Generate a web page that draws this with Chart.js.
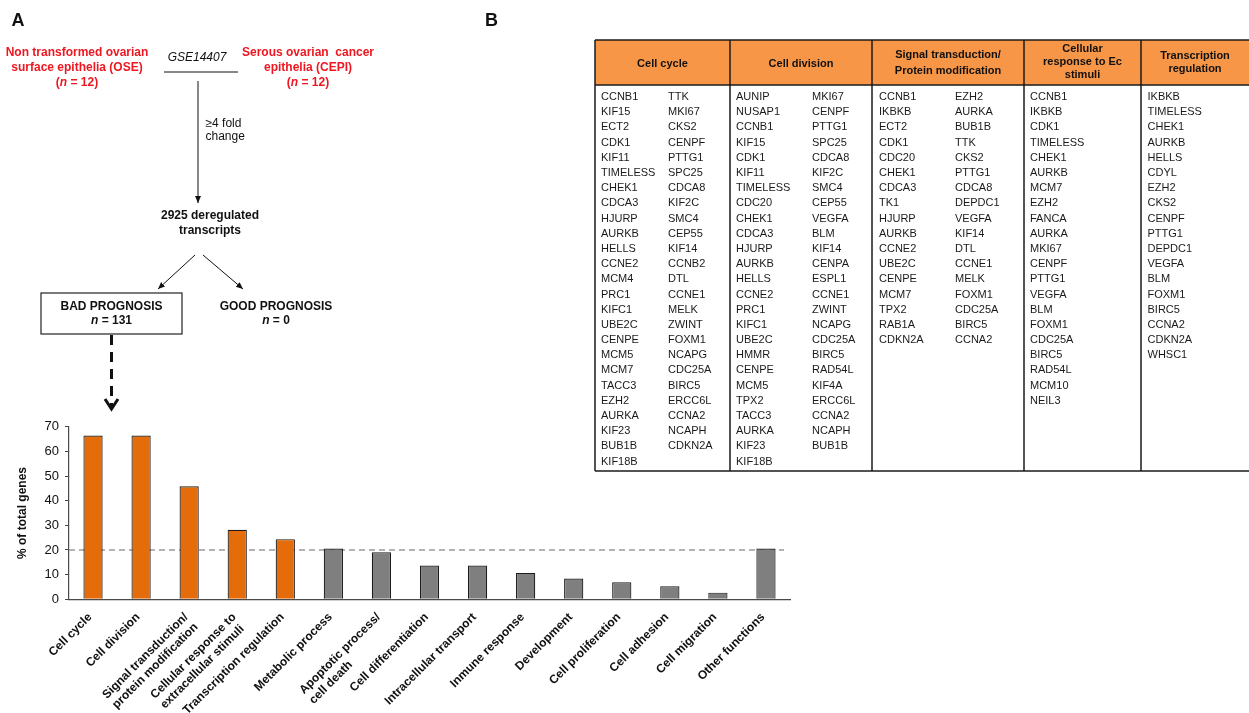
<!DOCTYPE html>
<html>
<head>
<meta charset="utf-8">
<script src="https://cdn.jsdelivr.net/npm/chart.js@4.4.0/dist/chart.umd.min.js"></script>
<style>
  html, body { margin: 0; padding: 0; background: #fff; }
  body { width: 1249px; height: 713px; position: relative; overflow: hidden;
         font-family: "Liberation Sans", Arial, Helvetica, sans-serif; color: #111; }
  .t { position: absolute; white-space: nowrap; }
  .c { transform: translateX(-50%); text-align: center; }
  .b { font-weight: bold; }
  .red { color: #ee1620; }
  .panel { font-size: 18px; font-weight: bold; line-height: 20px; }
  .f12 { font-size: 12px; }
  .gene { font-size: 11px; line-height: 15.18px; color: #1a1a1a; }
  .hdr { position: absolute; font-size: 11px; font-weight: bold; color: #111; text-align: center;
         display: flex; align-items: center; justify-content: center; }
  #chartBox { position: absolute; left: 0; top: 410px; width: 800px; height: 303px; }
  svg { position: absolute; left: 0; top: 0; }
</style>
</head>
<body>

<div id="chartBox"><canvas id="genesChart" width="800" height="303"></canvas></div>

<svg width="1249" height="713">
  <defs>
    <marker id="head" markerWidth="8" markerHeight="8" refX="7" refY="3" orient="auto" markerUnits="userSpaceOnUse">
      <path d="M0,0 L7,3 L0,6 z" fill="#111"/>
    </marker>
  </defs>
  <!-- flow diagram -->
  <line x1="164" y1="72" x2="238" y2="72" stroke="#111" stroke-width="1"/>
  <line x1="198" y1="81" x2="198" y2="203" stroke="#111" stroke-width="1" marker-end="url(#head)"/>
  <line x1="195" y1="255" x2="158" y2="289" stroke="#111" stroke-width="1" marker-end="url(#head)"/>
  <line x1="203" y1="255" x2="243" y2="289" stroke="#111" stroke-width="1" marker-end="url(#head)"/>
  <rect x="41" y="293" width="141" height="41" fill="none" stroke="#222" stroke-width="1.2"/>
  <line x1="111.5" y1="335" x2="111.5" y2="407" stroke="#111" stroke-width="3" stroke-dasharray="10 7"/>
  <polyline points="105,399 111.5,409 118,399" fill="none" stroke="#111" stroke-width="3"/>
  <!-- gene table frame -->
  <rect x="595" y="40" width="660" height="45" fill="#f79646"/>
  <g stroke="#1a1a1a" stroke-width="1.5" fill="none">
    <line x1="595" y1="40" x2="1255" y2="40"/>
    <line x1="595" y1="85" x2="1255" y2="85"/>
    <line x1="595" y1="471" x2="1255" y2="471"/>
    <line x1="595" y1="40" x2="595" y2="471"/>
    <line x1="730" y1="40" x2="730" y2="471"/>
    <line x1="872" y1="40" x2="872" y2="471"/>
    <line x1="1024" y1="40" x2="1024" y2="471"/>
    <line x1="1141" y1="40" x2="1141" y2="471"/>
  </g>
</svg>

<!-- panel letters -->
<div class="t panel" style="left:11.5px; top:10px;">A</div>
<div class="t panel" style="left:485px; top:10px;">B</div>

<!-- flow diagram text -->
<div class="t c b f12 red" style="left:77px; top:44.7px; line-height:15.2px;">Non transformed ovarian<br>surface epithelia (OSE)<br>(<i>n</i> = 12)</div>
<div class="t c b f12 red" style="left:308px; top:44.7px; line-height:15.2px;">Serous ovarian&nbsp; cancer<br>epithelia (CEPI)<br>(<i>n</i> = 12)</div>
<div class="t c f12" style="left:197px; top:50px; line-height:15px; font-style:italic;">GSE14407</div>
<div class="t f12" style="left:205.5px; top:117px; line-height:12.5px;">&ge;4 fold<br>change</div>
<div class="t c b f12" style="left:210px; top:207.5px; line-height:15px;">2925 deregulated<br>transcripts</div>
<div class="t c b f12" style="left:111.5px; top:299px; line-height:14px;">BAD PROGNOSIS<br><i>n</i> = 131</div>
<div class="t c b f12" style="left:276px; top:299px; line-height:14px;">GOOD PROGNOSIS<br><i>n</i> = 0</div>

<!-- gene table headers -->
<div class="hdr" style="left:595px; top:40px; width:135px; height:45px;">Cell cycle</div>
<div class="hdr" style="left:730px; top:40px; width:142px; height:45px;">Cell division</div>
<div class="hdr" style="left:872px; top:40px; width:152px; height:45px; line-height:15.5px;">Signal transduction/<br>Protein modification</div>
<div class="hdr" style="left:1024px; top:39px; width:117px; height:45px; line-height:12.7px;">Cellular<br>response to Ec<br>stimuli</div>
<div class="hdr" style="left:1141px; top:39.5px; width:108px; height:45px; line-height:13.3px;">Transcription<br>regulation</div>

<div id="geneColumns"></div>

<script>
// Percentage of the 131 bad-prognosis genes in each functional category
const categories = [
  'Cell cycle',
  'Cell division',
  'Signal transduction/\nprotein modification',
  'Cellular response to\nextracellular stimuli',
  'Transcription regulation',
  'Metabolic process',
  'Apoptotic process/\ncell death',
  'Cell differentiation',
  'Intracellular transport',
  'Inmune response',
  'Development',
  'Cell proliferation',
  'Cell adhesion',
  'Cell migration',
  'Other functions'
];
const percentOfGenes = [66.4, 66.4, 45.8, 28.2, 24.4, 20.6, 19.1, 13.7, 13.7, 10.7, 8.4, 6.9, 5.3, 2.7, 20.6];
const yTicks = [0, 10, 20, 30, 40, 50, 60, 70];
const thresholdPercent = 20;
const enrichedCount = 5;

// Genes listed under each enriched category
const cellCycleGenesA = ['CCNB1','KIF15','ECT2','CDK1','KIF11','TIMELESS','CHEK1','CDCA3','HJURP','AURKB','HELLS','CCNE2','MCM4','PRC1','KIFC1','UBE2C','CENPE','MCM5','MCM7','TACC3','EZH2','AURKA','KIF23','BUB1B','KIF18B'];
const cellCycleGenesB = ['TTK','MKI67','CKS2','CENPF','PTTG1','SPC25','CDCA8','KIF2C','SMC4','CEP55','KIF14','CCNB2','DTL','CCNE1','MELK','ZWINT','FOXM1','NCAPG','CDC25A','BIRC5','ERCC6L','CCNA2','NCAPH','CDKN2A'];
const cellDivisionGenesA = ['AUNIP','NUSAP1','CCNB1','KIF15','CDK1','KIF11','TIMELESS','CDC20','CHEK1','CDCA3','HJURP','AURKB','HELLS','CCNE2','PRC1','KIFC1','UBE2C','HMMR','CENPE','MCM5','TPX2','TACC3','AURKA','KIF23','KIF18B'];
const cellDivisionGenesB = ['MKI67','CENPF','PTTG1','SPC25','CDCA8','KIF2C','SMC4','CEP55','VEGFA','BLM','KIF14','CENPA','ESPL1','CCNE1','ZWINT','NCAPG','CDC25A','BIRC5','RAD54L','KIF4A','ERCC6L','CCNA2','NCAPH','BUB1B'];
const signalGenesA = ['CCNB1','IKBKB','ECT2','CDK1','CDC20','CHEK1','CDCA3','TK1','HJURP','AURKB','CCNE2','UBE2C','CENPE','MCM7','TPX2','RAB1A','CDKN2A'];
const signalGenesB = ['EZH2','AURKA','BUB1B','TTK','CKS2','PTTG1','CDCA8','DEPDC1','VEGFA','KIF14','DTL','CCNE1','MELK','FOXM1','CDC25A','BIRC5','CCNA2'];
const stimuliGenes = ['CCNB1','IKBKB','CDK1','TIMELESS','CHEK1','AURKB','MCM7','EZH2','FANCA','AURKA','MKI67','CENPF','PTTG1','VEGFA','BLM','FOXM1','CDC25A','BIRC5','RAD54L','MCM10','NEIL3'];
const transcriptionGenes = ['IKBKB','TIMELESS','CHEK1','AURKB','HELLS','CDYL','EZH2','CKS2','CENPF','PTTG1','DEPDC1','VEGFA','BLM','FOXM1','BIRC5','CCNA2','CDKN2A','WHSC1'];

// Gene table body: one text column per list
const geneLayout = [
  [cellCycleGenesA, 601], [cellCycleGenesB, 668],
  [cellDivisionGenesA, 736], [cellDivisionGenesB, 812],
  [signalGenesA, 879], [signalGenesB, 955],
  [stimuliGenes, 1030], [transcriptionGenes, 1147.5]
];
const geneHost = document.getElementById('geneColumns');
geneLayout.forEach(([genes, left]) => {
  const col = document.createElement('div');
  col.className = 't gene';
  col.style.left = left + 'px';
  col.style.top = '89.1px';
  col.innerHTML = genes.join('<br>');
  geneHost.appendChild(col);
});

const fontFamily = '"Liberation Sans", Arial, Helvetica, sans-serif';

// Dashed reference line at the threshold percentage
const thresholdLine = {
  id: 'thresholdLine',
  beforeDatasetsDraw(chart) {
    const { ctx, chartArea, scales: { y } } = chart;
    const yy = y.getPixelForValue(thresholdPercent);
    ctx.save();
    ctx.strokeStyle = '#9b9b9b';
    ctx.lineWidth = 1.3;
    ctx.setLineDash([6, 4]);
    ctx.beginPath();
    ctx.moveTo(chartArea.left, yy);
    ctx.lineTo(chartArea.right - 6, yy);
    ctx.stroke();
    ctx.restore();
  }
};

// Category names at 45 degrees; wrapped lines share a common starting edge
const slantedCategoryLabels = {
  id: 'slantedCategoryLabels',
  afterDraw(chart) {
    const { ctx, scales: { x } } = chart;
    const lineHeight = 14;
    ctx.save();
    ctx.font = 'bold 12px ' + fontFamily;
    ctx.fillStyle = '#111';
    ctx.textAlign = 'left';
    ctx.textBaseline = 'middle';
    chart.data.labels.forEach((lines, i) => {
      const px = x.getPixelForValue(i);
      const firstWidth = ctx.measureText(lines[0]).width;
      ctx.save();
      ctx.translate(px - 3, x.top + 16);
      ctx.rotate(-Math.PI / 4);
      lines.forEach((line, k) => ctx.fillText(line, -firstWidth, k * lineHeight));
      ctx.restore();
    });
    ctx.restore();
  }
};

const barColors = percentOfGenes.map((_, i) => i < enrichedCount ? '#e46c0a' : '#7f7f7f');

new Chart(document.getElementById('genesChart'), {
  type: 'bar',
  data: {
    labels: categories.map(c => c.split('\n')),
    datasets: [{
      data: percentOfGenes,
      backgroundColor: barColors,
      borderColor: '#1c1c1c',
      borderWidth: 1.2,
      barPercentage: 0.4,
      categoryPercentage: 1
    }]
  },
  options: {
    responsive: false,
    animation: false,
    events: [],
    layout: { padding: { top: 16.7, right: 10, bottom: 0, left: 0 } },
    plugins: { legend: { display: false }, tooltip: { enabled: false } },
    scales: {
      x: {
        grid: { display: false },
        border: { display: true, color: '#4a4a4a', width: 1.2 },
        ticks: { display: false },
        afterFit(scale) { scale.height = 113.7; }
      },
      y: {
        min: 0, max: 70,
        afterBuildTicks(scale) { scale.ticks = yTicks.map(v => ({ value: v })); },
        ticks: { padding: 6, color: '#111', font: { family: fontFamily, size: 13 } },
        grid: { drawOnChartArea: false, drawTicks: true, tickLength: 4, color: '#4a4a4a', lineWidth: 1 },
        border: { display: true, color: '#4a4a4a', width: 1.2 },
        title: {
          display: true, text: '% of total genes', color: '#111',
          font: { family: fontFamily, size: 12, weight: 'bold' },
          padding: { top: 15, bottom: 0 }
        },
        afterFit(scale) { scale.width = 69; }
      }
    }
  },
  plugins: [thresholdLine, slantedCategoryLabels]
});
</script>
</body>
</html>
